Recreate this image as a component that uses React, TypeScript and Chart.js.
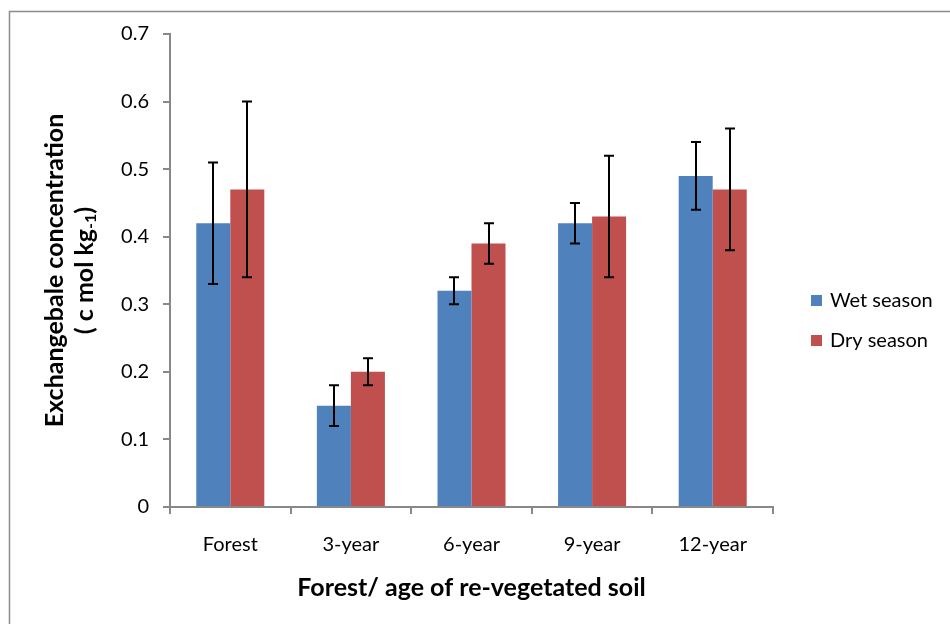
import React, { useEffect, useRef } from "react";
import { Chart, registerables } from "chart.js";

Chart.register(...registerables);

const categories = ["Forest", "3-year", "6-year", "9-year", "12-year"];
const wetValues = [0.42, 0.15, 0.32, 0.42, 0.49];
const dryValues = [0.47, 0.2, 0.39, 0.43, 0.47];
const wetErrors = [0.09, 0.03, 0.02, 0.03, 0.05];
const dryErrors = [0.13, 0.02, 0.03, 0.09, 0.09];
const seriesNames = ["Wet season", "Dry season"];
const seriesColors = ["#4F81BD", "#C0504D"];
const errorSets = [wetErrors, dryErrors];
const yTitleLine1 = "Exchangebale concentration";
const yTitleLine2 = ["( c mol kg", "-1", ")"];
const xTitle = "Forest/ age of re-vegetated soil";

const FONT = "Lato, 'Open Sans', sans-serif";
const AXIS_GRAY = "#888888";

const errorBarPlugin = {
  id: "errorBars",
  afterDatasetsDraw(chart: any) {
    const ctx = chart.ctx;
    const yScale = chart.scales.y;
    ctx.save();
    ctx.strokeStyle = "#000";
    ctx.lineWidth = 2;
    chart.data.datasets.forEach((ds: any, di: number) => {
      const meta = chart.getDatasetMeta(di);
      const errs = errorSets[di];
      meta.data.forEach((bar: any, i: number) => {
        const v = ds.data[i];
        const e = errs[i];
        const x = Math.round(bar.x);
        const yTop = yScale.getPixelForValue(v + e);
        const yBot = yScale.getPixelForValue(v - e);
        ctx.beginPath();
        ctx.moveTo(x, yTop);
        ctx.lineTo(x, yBot);
        ctx.moveTo(x - 5, yTop);
        ctx.lineTo(x + 5, yTop);
        ctx.moveTo(x - 5, yBot);
        ctx.lineTo(x + 5, yBot);
        ctx.stroke();
      });
    });
    ctx.restore();
  },
};

const frameLegendPlugin = {
  id: "frameLegend",
  afterDraw(chart: any) {
    const ctx = chart.ctx;
    const area = chart.chartArea;
    ctx.save();
    // outer frame (top and left visible)
    ctx.strokeStyle = "#8c8c8c";
    ctx.lineWidth = 1.5;
    ctx.beginPath();
    ctx.moveTo(9.5, 1000);
    ctx.lineTo(9.5, 11.5);
    ctx.lineTo(1000, 11.5);
    ctx.stroke();

    // y-axis title with subscript
    const cy = (area.top + area.bottom) / 2;
    ctx.save();
    ctx.translate(55, cy);
    ctx.rotate(-Math.PI / 2);
    ctx.fillStyle = "#000";
    ctx.textBaseline = "middle";
    ctx.textAlign = "center";
    ctx.font = `bold 25px ${FONT}`;
    ctx.fillText(yTitleLine1, 0, 0);
    // second line
    ctx.translate(0, 30);
    ctx.textAlign = "left";
    const big = `bold 25px ${FONT}`;
    const small = `bold 16px ${FONT}`;
    ctx.font = big;
    const w1 = ctx.measureText(yTitleLine2[0]).width;
    const w3 = ctx.measureText(yTitleLine2[2]).width;
    ctx.font = small;
    const w2 = ctx.measureText(yTitleLine2[1]).width;
    let x = -(w1 + w2 + w3) / 2;
    ctx.font = big;
    ctx.fillText(yTitleLine2[0], x, 0);
    x += w1;
    ctx.font = small;
    ctx.fillText(yTitleLine2[1], x, 6);
    x += w2;
    ctx.font = big;
    ctx.fillText(yTitleLine2[2], x, 0);
    ctx.restore();

    // legend
    const items = [{ y: 300 }, { y: 340 }];
    items.forEach((it, i) => {
      ctx.fillStyle = seriesColors[i];
      ctx.fillRect(811, it.y - 5, 11, 11);
      ctx.fillStyle = "#000";
      ctx.font = `20px ${FONT}`;
      ctx.textBaseline = "middle";
      ctx.textAlign = "left";
      ctx.fillText(seriesNames[i], 830, it.y + 1);
    });
    ctx.restore();
  },
};

export default function App() {
  const ref = useRef<HTMLCanvasElement | null>(null);
  useEffect(() => {
    if (!ref.current) return;
    const chart = new Chart(ref.current, {
      type: "bar",
      data: {
        labels: categories,
        datasets: [
          {
            label: seriesNames[0],
            data: wetValues,
            backgroundColor: seriesColors[0],
            categoryPercentage: 0.564,
            barPercentage: 1,
          },
          {
            label: seriesNames[1],
            data: dryValues,
            backgroundColor: seriesColors[1],
            categoryPercentage: 0.564,
            barPercentage: 1,
          },
        ],
      },
      options: {
        animation: false,
        responsive: false,
        devicePixelRatio: 1,
        layout: { padding: { left: 0, right: 177, top: 34, bottom: 0 } },
        plugins: {
          legend: { display: false },
          tooltip: { enabled: false },
        },
        scales: {
          x: {
            grid: {
              offset: true,
              drawOnChartArea: false,
              drawTicks: true,
              tickLength: 7,
              color: AXIS_GRAY,
              lineWidth: 2,
            },
            border: { color: AXIS_GRAY, width: 2 },
            ticks: {
              color: "#000",
              font: { family: FONT, size: 20 },
              padding: 19,
            },
            title: {
              display: true,
              text: xTitle,
              color: "#000",
              font: { family: FONT, size: 25, weight: "bold" },
              padding: { top: 4, bottom: 21 },
            },
            afterFit(s: any) {
              s.height = 117;
            },
          },
          y: {
            min: 0,
            max: 0.7,
            ticks: {
              stepSize: 0.1,
              color: "#000",
              font: { family: FONT, size: 20 },
              padding: 14,
              callback: (v: any) => (Number(v) === 0 ? "0" : Number(v).toFixed(1)),
            },
            grid: {
              drawOnChartArea: false,
              drawTicks: true,
              tickLength: 7,
              color: AXIS_GRAY,
              lineWidth: 2,
            },
            border: { color: AXIS_GRAY, width: 2 },
            title: { display: false },
            afterFit(s: any) {
              s.width = 170;
            },
          },
        },
      },
      plugins: [errorBarPlugin, frameLegendPlugin],
    });
    return () => chart.destroy();
  }, []);
  return (
    <div style={{ position: "fixed", left: 0, top: 0, width: 950, height: 624, background: "#fff" }}>
      <canvas ref={ref} width={950} height={624} style={{ width: 950, height: 624 }} />
    </div>
  );
}
